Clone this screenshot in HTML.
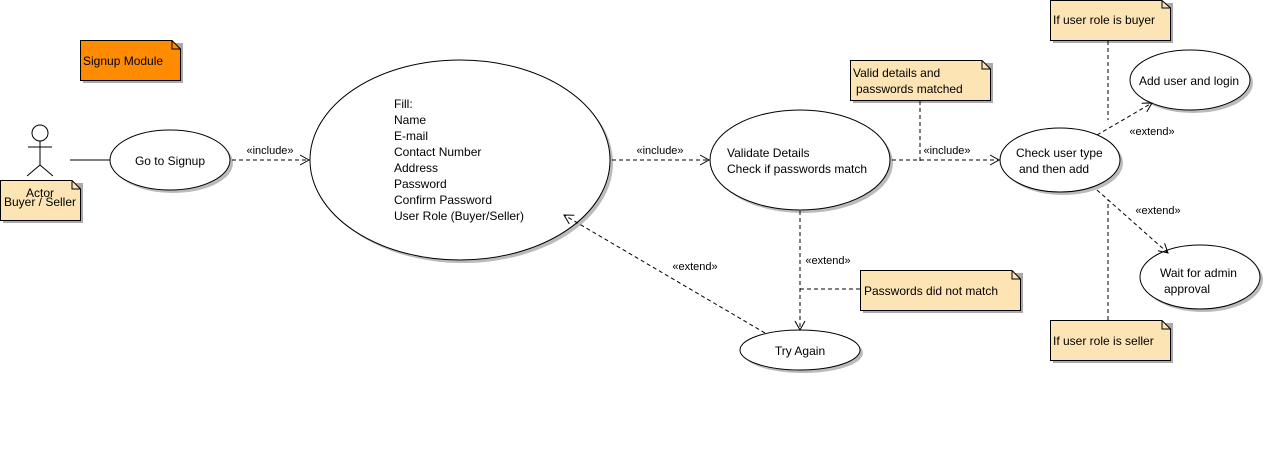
<!DOCTYPE html>
<html><head><style>body{margin:0;background:#fff}svg{display:block}</style></head><body>
<svg width="1265" height="460" xmlns="http://www.w3.org/2000/svg" font-family="Liberation Sans, sans-serif" font-size="12">
<defs>
<marker id="a" markerWidth="12" markerHeight="12" refX="10" refY="6" orient="auto" markerUnits="userSpaceOnUse"><path d="M1,1 L10,6 L1,11" fill="none" stroke="#000"/></marker>
</defs>
<rect width="1265" height="460" fill="#fff"/>
<!-- notes -->
<g stroke="#000" stroke-width="1">
<rect x="83" y="43" width="100" height="40" fill="#aaa" stroke="none"/>
<path d="M80.5,40.5 H172 L180.5,49 V80.5 H80.5 Z" fill="#ff8c00"/><path d="M172,40.5 V49 H180.5" fill="none"/>
<rect x="3" y="183" width="80" height="40" fill="#aaa" stroke="none"/>
<path d="M0.5,180.5 H72 L80.5,189 V220.5 H0.5 Z" fill="#fde4b4"/><path d="M72,180.5 V189 H80.5" fill="none"/>
<rect x="1053" y="3" width="120" height="40" fill="#aaa" stroke="none"/>
<path d="M1050.5,0.5 H1162 L1170.5,8 V40.5 H1050.5 Z" fill="#fde4b4"/><path d="M1162,0.5 V8 H1170.5" fill="none"/>
<rect x="853" y="63" width="140" height="40" fill="#aaa" stroke="none"/>
<path d="M850.5,60.5 H982 L990.5,69 V100.5 H850.5 Z" fill="#fde4b4"/><path d="M982,60.5 V69 H990.5" fill="none"/>
<rect x="863" y="273" width="160" height="40" fill="#aaa" stroke="none"/>
<path d="M860.5,270.5 H1012 L1020.5,279 V310.5 H860.5 Z" fill="#fde4b4"/><path d="M1012,270.5 V279 H1020.5" fill="none"/>
<rect x="1053" y="323" width="120" height="40" fill="#aaa" stroke="none"/>
<path d="M1050.5,320.5 H1162 L1170.5,329 V360.5 H1050.5 Z" fill="#fde4b4"/><path d="M1162,320.5 V329 H1170.5" fill="none"/>
</g>
<!-- actor -->
<g stroke="#000" fill="none">
<circle cx="40" cy="133" r="8" fill="#fff"/>
<path d="M40,141 V165 M28,147 H52 M40,165 L27,176 M40,165 L53,176"/>
<path d="M70,160 H110"/>
</g>
<!-- ellipses -->
<g stroke="#000" fill="#fff">
<g fill="#bbb" stroke="none">
<ellipse cx="173" cy="163" rx="60" ry="30"/><ellipse cx="463" cy="163" rx="150" ry="100"/>
<ellipse cx="803" cy="163" rx="90" ry="50"/><ellipse cx="1063" cy="163" rx="60" ry="32"/>
<ellipse cx="1193" cy="83" rx="60" ry="30"/><ellipse cx="1203" cy="280" rx="60" ry="32"/>
<ellipse cx="803" cy="353" rx="60" ry="20"/>
</g>
<ellipse cx="170" cy="160" rx="60" ry="30"/><ellipse cx="460" cy="160" rx="150" ry="100"/>
<ellipse cx="800" cy="160" rx="90" ry="50"/><ellipse cx="1060" cy="160" rx="60" ry="32"/>
<ellipse cx="1190" cy="80" rx="60" ry="30"/><ellipse cx="1200" cy="277" rx="60" ry="32"/>
<ellipse cx="800" cy="350" rx="60" ry="20"/>
</g>
<!-- connectors -->
<g stroke="#000" fill="none" stroke-dasharray="4,3">
<path d="M232,160 H309" marker-end="url(#a)"/>
<path d="M612,160 H709" marker-end="url(#a)"/>
<path d="M892,160 H999" marker-end="url(#a)"/>
<path d="M800,211 V330" marker-end="url(#a)"/>
<path d="M765,333 L564,215" marker-end="url(#a)"/>
<path d="M1097,135 L1152,103" marker-end="url(#a)"/>
<path d="M1097,190 L1168,253" marker-end="url(#a)"/>
<path d="M1108,41 V120"/>
<path d="M920,101 V162"/>
<path d="M860,289 H798"/>
<path d="M1108,320 V200"/>
</g>
<!-- text -->
<g fill="#000">
<text x="83" y="65">Signup Module</text>
<text x="40" y="197" text-anchor="middle">Actor</text>
<text x="40" y="206" text-anchor="middle">Buyer / Seller</text>
<text x="170" y="165" text-anchor="middle">Go to Signup</text>
<text x="270" y="154" text-anchor="middle" font-size="11">«include»</text>
<text x="660" y="154" text-anchor="middle" font-size="11">«include»</text>
<text x="947" y="154" text-anchor="middle" font-size="11">«include»</text>
<text x="828" y="264" text-anchor="middle" font-size="11">«extend»</text>
<text x="695" y="270" text-anchor="middle" font-size="11">«extend»</text>
<text x="1152" y="135" text-anchor="middle" font-size="11">«extend»</text>
<text x="1158" y="214" text-anchor="middle" font-size="11">«extend»</text>
<text x="394" y="108">Fill:</text><text x="394" y="124">Name</text><text x="394" y="140">E-mail</text>
<text x="394" y="156">Contact Number</text><text x="394" y="172">Address</text><text x="394" y="188">Password</text>
<text x="394" y="204">Confirm Password</text><text x="394" y="220">User Role (Buyer/Seller)</text>
<text x="727" y="157">Validate Details</text><text x="727" y="173">Check if passwords match</text>
<text x="1016" y="157">Check user type</text><text x="1019" y="173">and then add</text>
<text x="1139" y="85">Add user and login</text>
<text x="1160" y="277">Wait for admin</text><text x="1164" y="293">approval</text>
<text x="800" y="355" text-anchor="middle">Try Again</text>
<text x="1053" y="24">If user role is buyer</text>
<text x="853" y="77">Valid details and</text><text x="856" y="93">passwords matched</text>
<text x="864" y="295">Passwords did not match</text>
<text x="1053" y="345">If user role is seller</text>
</g>
</svg>
</body></html>
